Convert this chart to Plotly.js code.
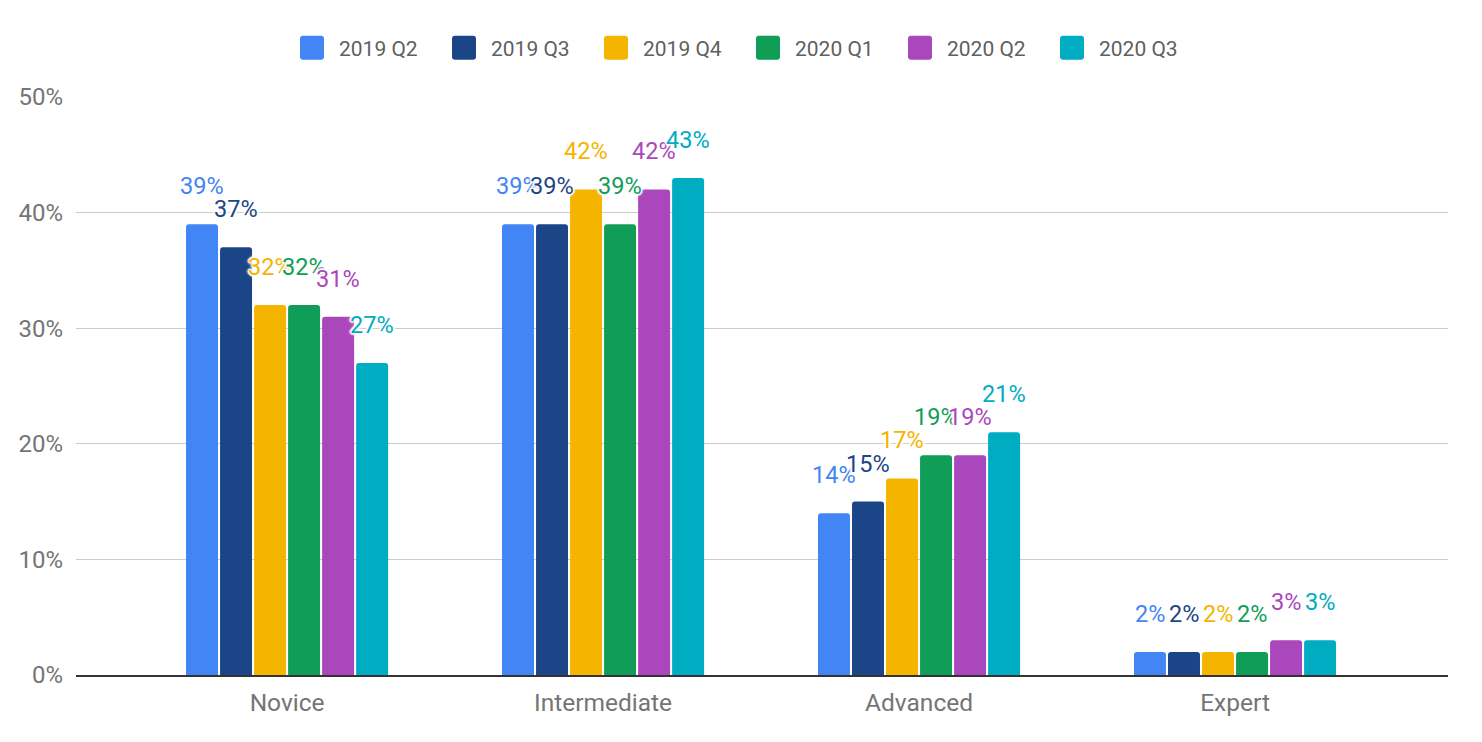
<!DOCTYPE html>
<html>
<head>
<meta charset="utf-8">
<script src="https://cdn.plot.ly/plotly-3.0.1.min.js"></script>
<style>
  html, body { margin: 0; padding: 0; background: #fff; }
  #chart { width: 1482px; height: 742px; }
</style>
</head>
<body>
<div id="chart"></div>
<script>
// ---- data ----
const categories = ["Novice", "Intermediate", "Advanced", "Expert"];
const seriesNames = ["2019 Q2", "2019 Q3", "2019 Q4", "2020 Q1", "2020 Q2", "2020 Q3"];
const q2_2019 = [39, 39, 14, 2];
const q3_2019 = [37, 39, 15, 2];
const q4_2019 = [32, 42, 17, 2];
const q1_2020 = [32, 39, 19, 2];
const q2_2020 = [31, 42, 19, 3];
const q3_2020 = [27, 43, 21, 3];
const yTickVals = [0, 10, 20, 30, 40, 50];

const seriesValues = [q2_2019, q3_2019, q4_2019, q1_2020, q2_2020, q3_2020];
const colors = ["#4285F4", "#1C4587", "#F4B400", "#0F9D58", "#AB47BC", "#00ACC1"];

const FONT = "Roboto, 'Noto Sans', Arial, sans-serif";
const BARGAP = 0.354;
const BARGROUPGAP = 0.06;
const n = seriesValues.length;
const slot = (1 - BARGAP) / n;

const traces = seriesValues.map((vals, i) => ({
  type: "bar",
  name: seriesNames[i],
  x: categories,
  y: vals,
  marker: { color: colors[i], cornerradius: 3 },
  hoverinfo: "x+y+name"
}));

const halo = "-2px 0 2px #fff, 2px 0 2px #fff, 0 -2px 2px #fff, 0 2px 2px #fff, -1px -1px 1px #fff, 1px 1px 1px #fff, -1px 1px 1px #fff, 1px -1px 1px #fff";
const annotations = [];
seriesValues.forEach((vals, i) => {
  vals.forEach((v, c) => {
    annotations.push({
      x: c + (i - (n - 1) / 2) * slot,
      y: v,
      xref: "x", yref: "y",
      text: v + "%",
      showarrow: false,
      xanchor: "center",
      yanchor: "bottom",
      yshift: 22,
      font: { family: FONT, size: 23.5, color: colors[i], shadow: halo }
    });
  });
});

const layout = {
  width: 1482,
  height: 742,
  margin: { l: 76, r: 34, t: 97, b: 67 },
  paper_bgcolor: "#fff",
  plot_bgcolor: "#fff",
  font: { family: FONT, color: "#757575", size: 21 },
  barmode: "group",
  bargap: BARGAP,
  bargroupgap: BARGROUPGAP,
  showlegend: true,
  legend: {
    orientation: "h",
    xref: "paper",
    x: 0.5 - 7 / 1372,
    xanchor: "center",
    yref: "container",
    y: 1 - 48 / 742,
    yanchor: "middle",
    entrywidth: 107,
    entrywidthmode: "pixels",
    font: { family: FONT, size: 21, color: "#5f5f5f" },
    traceorder: "normal"
  },
  xaxis: {
    type: "category",
    range: [-0.668, 3.674],
    showgrid: false,
    zeroline: false,
    showline: true,
    linecolor: "#333333",
    linewidth: 2,
    ticks: "",
    ticklabelstandoff: 5,
    tickfont: { family: FONT, size: 24.5, color: "#757575" },
    fixedrange: true
  },
  yaxis: {
    range: [0, 50],
    tickvals: yTickVals,
    ticktext: yTickVals.map(v => v + "%"),
    showgrid: true,
    gridcolor: "#cccccc",
    gridwidth: 1,
    zeroline: false,
    showline: false,
    ticks: "",
    ticklabelstandoff: 12,
    tickfont: { family: FONT, size: 24, color: "#757575" },
    fixedrange: true
  },
  annotations: annotations
};

Plotly.newPlot("chart", traces, layout, { displayModeBar: false, staticPlot: true }).then(function () {
  // rounded 24px legend swatches, shifted left to leave the reference's gap before the text
  document.querySelectorAll("#chart .legend .legendpoints path").forEach(function (p) {
    p.setAttribute("d", "M-16,-12H2A3,3 0 0 1 5,-9V9A3,3 0 0 1 2,12H-16A3,3 0 0 1 -19,9V-9A3,3 0 0 1 -16,-12Z");
    p.style.strokeWidth = "0px";
  });
});
</script>
</body>
</html>
